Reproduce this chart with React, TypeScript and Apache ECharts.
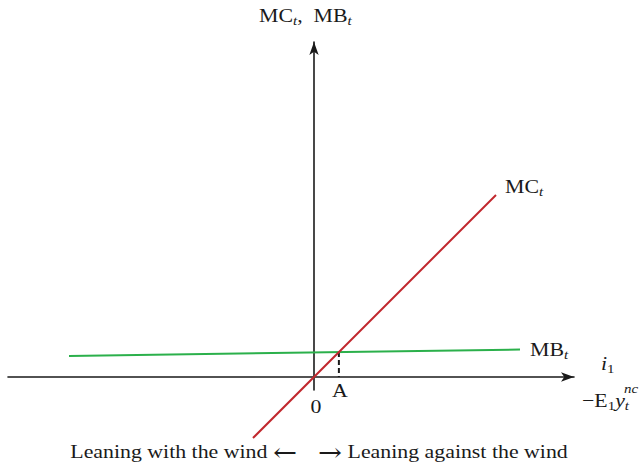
import React, { useEffect, useRef } from "react";
import * as echarts from "echarts";

// Marginal cost line (MC_t) endpoints [x, y]
const mcLine: number[][] = [
  [-6.1, -6.1],
  [18.2, 18.2],
];
// Marginal benefit line (MB_t) endpoints [x, y]
const mbLine: number[][] = [
  [-24.5, 2.1],
  [20.6, 2.75],
];
// Axis extents
const xRange = [-30.6, 26.0];
const yRange = [-1.3, 33.5];

// Intersection of MC and MB (point A)
function intersect(a: number[][], b: number[][]) {
  const m1 = (a[1][1] - a[0][1]) / (a[1][0] - a[0][0]);
  const c1 = a[0][1] - m1 * a[0][0];
  const m2 = (b[1][1] - b[0][1]) / (b[1][0] - b[0][0]);
  const c2 = b[0][1] - m2 * b[0][0];
  const x = (c2 - c1) / (m1 - m2);
  return [x, m1 * x + c1];
}

const FONT = '"Liberation Serif", "Times New Roman", serif';
const SX = 1.15;
const RED = "#c1272d";
const GREEN = "#2bb04b";
const INK = "#1a1a1a";

const rich = {
  m: { fontSize: 19, fontFamily: FONT, lineHeight: 22, fill: INK },
  i: { fontSize: 19, fontFamily: FONT, fontStyle: "italic", lineHeight: 22, fill: INK },
  s: { fontSize: 13, fontFamily: FONT, fontStyle: "italic", lineHeight: 9, verticalAlign: "bottom", fill: INK },
  n: { fontSize: 13, fontFamily: FONT, lineHeight: 9, verticalAlign: "bottom", fill: INK },
  ar: { fontSize: 25, fontFamily: '"DejaVu Serif", serif', lineHeight: 22, fill: INK },
};

function label(text: string, x: number, y: number, align = "left", size = 19, italic = false) {
  return {
    type: "text",
    x,
    y,
    scaleX: SX,
    silent: true,
    style: {
      text,
      rich,
      fill: INK,
      font: `${italic ? "italic " : ""}${size}px ${FONT}`,
      align,
      verticalAlign: "middle",
    },
  };
}

export default function App() {
  const ref = useRef<HTMLDivElement>(null);
  useEffect(() => {
    if (!ref.current) return;
    const chart = echarts.init(ref.current, undefined, { renderer: "svg" });
    const A = intersect(mcLine, mbLine);
    const axisCommon = {
      type: "value",
      axisTick: { show: false },
      axisLabel: { show: false },
      splitLine: { show: false },
      axisLine: {
        show: true,
        onZero: true,
        symbol: ["none", "arrow"],
        symbolSize: [7, 13],
        lineStyle: { color: INK, width: 1.6 },
      },
    };
    chart.setOption({
      animation: false,
      backgroundColor: "#ffffff",
      grid: { left: 8, right: 69, top: 42, bottom: 76 },
      xAxis: { ...axisCommon, min: xRange[0], max: xRange[1] },
      yAxis: { ...axisCommon, min: yRange[0], max: yRange[1] },
      series: [
        {
          type: "line",
          data: mbLine,
          symbol: "none",
          clip: false,
          silent: true,
          lineStyle: { color: GREEN, width: 2 },
          z: 3,
        },
        {
          type: "line",
          data: mcLine,
          symbol: "none",
          clip: false,
          silent: true,
          lineStyle: { color: RED, width: 2 },
          z: 4,
        },
        {
          type: "line",
          data: [
            [A[0], A[1]],
            [A[0], 0],
          ],
          symbol: "none",
          clip: false,
          silent: true,
          lineStyle: { color: INK, width: 2, type: [5, 3] },
          z: 2,
        },
      ],
      graphic: [
        label("{m|MC}{s|t}{m|,  MB}{s|t}", 259, 16),
        label("{m|MC}{s|t}", 505, 187),
        label("{m|MB}{s|t}", 530, 350),
        label("{i|i}{n|1}", 601, 364),
        label("{m|−E}{n|1}{i|y}{s|t}", 582, 401),
        label("nc", 624, 389, "left", 13, true),
        label("0", 316, 407, "center"),
        label("A", 340, 391, "center"),
        label("{m|Leaning with the wind }{ar|←}", 297, 452, "right"),
        label("{ar|→}{m| Leaning against the wind}", 318, 452, "left"),
      ],
    });
    return () => chart.dispose();
  }, []);
  return (
    <div
      ref={ref}
      style={{ position: "absolute", left: 0, top: 0, width: 643, height: 466 }}
    />
  );
}
